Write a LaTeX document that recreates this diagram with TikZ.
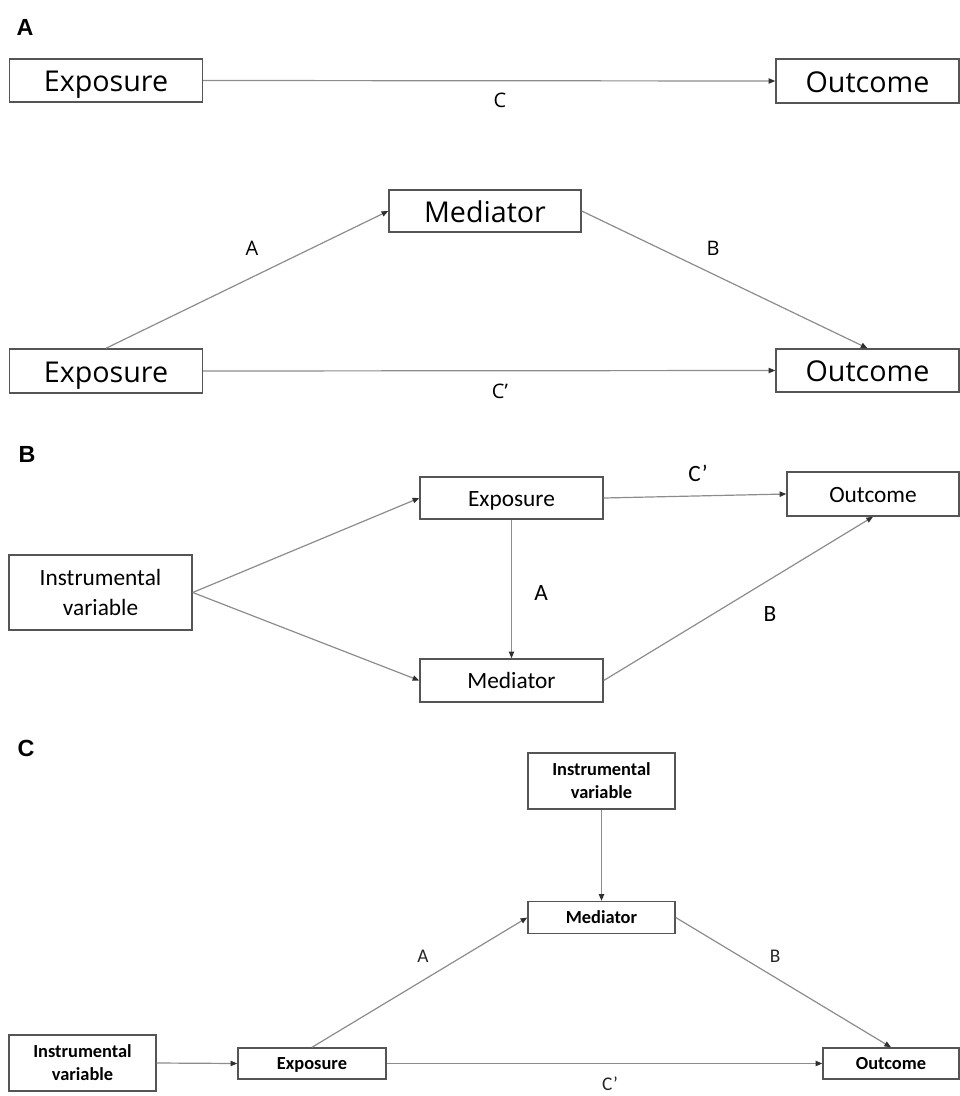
\documentclass[tikz,border=0pt]{standalone}
\usepackage{fontspec}
\newfontfamily\wideFont{Open Sans}
\newfontfamily\calFont{Carlito}
\newfontfamily\titleFont{Liberation Sans}
\usetikzlibrary{arrows.meta}
\definecolor{boxGray}{HTML}{555555}
\definecolor{lineGray}{HTML}{8C8C8C}
\definecolor{tipGray}{HTML}{303030}

\begin{document}
\begin{tikzpicture}[x=0.75pt,y=-0.75pt,
		box/.style={draw=boxGray,line width=1.1pt,inner sep=0pt,text=black,text depth=0pt},
		twoLine/.style={align=center,text height={},text depth={}},
		boxA/.style={box,text height=16.5pt,font=\wideFont\fontsize{21.5}{26}\selectfont},
		boxB/.style={box,text height=12pt,font=\calFont\fontsize{17.5}{23.2}\selectfont},
		boxC/.style={box,text height=9.5pt,font=\calFont\bfseries\fontsize{13.8}{17.3}\selectfont},
		link/.style={draw=lineGray,line width=0.9pt,-{Triangle[length=5pt,width=4pt,color=tipGray]}},
		lblA/.style={inner sep=0pt,font=\wideFont\fontsize{15}{18}\selectfont},
		lblB/.style={inner sep=0pt,font=\calFont\fontsize{17.5}{21}\selectfont},
		lblC/.style={inner sep=0pt,text=black!85,font=\calFont\fontsize{14.5}{17}\selectfont},
		panel/.style={inner sep=0pt,font=\titleFont\bfseries\fontsize{17.5}{21}\selectfont}]
		\useasboundingbox(0,0)rectangle(960,1096);

		% panel A
		\node[panel](titleA)at(25,27){A};
		\node[boxA,minimum width=144.75pt,minimum height=32.25pt](expA)at(106,80.5){Exposure};
		\node[boxA,minimum width=137.25pt,minimum height=33pt](outA)at(867.5,81){Outcome};
		\draw[link](expA.east)--(outA.west);
		\node[lblA](labCA)at(500,100){C};

		\node[boxA,minimum width=144pt,minimum height=31.5pt](medA)at(485,211){Mediator};
		\node[boxA,minimum width=144.75pt,minimum height=33pt](expAA)at(106,371){Exposure};
		\node[boxA,minimum width=137.25pt,minimum height=32.25pt](outAA)at(867.5,370.5){Outcome};
		\draw[link](expAA.north)--(medA.west);
		\draw[link](medA.east)--(outAA.north);
		\draw[link](expAA.east)--(outAA.west);
		\node[lblA](labAA)at(252,248){A};
		\node[lblA](labBA)at(713,248){B};
		\node[lblA](labCCA)at(500,391){C’};

		% panel B
		\node[panel](titleB)at(27,454){B};
		\node[boxB,twoLine,minimum width=137.25pt,minimum height=56.25pt](ivB)at(100.5,592.5){Instrumental\\variable};
		\node[boxB,minimum width=137.25pt,minimum height=31.5pt](expB)at(511.5,498){Exposure};
		\node[boxB,minimum width=137.25pt,minimum height=32.25pt](medB)at(511.5,680.5){Mediator};
		\node[boxB,minimum width=129pt,minimum height=33pt](outB)at(873,494){Outcome};
		\draw[link](ivB.east)--(expB.west);
		\draw[link](ivB.east)--(medB.west);
		\draw[link](expB.south)--(medB.north);
		\draw[link](expB.east)--(outB.west);
		\draw[link](medB.east)--(outB.south);
		\node[lblB](labCB)at(698,473){C’};
		\node[lblB](labAB)at(541,593){A};
		\node[lblB](labBB)at(770,614){B};

		% panel C
		\node[panel](titleC)at(26,748){C};
		\node[boxC,twoLine,minimum width=110.25pt,minimum height=42pt](ivC)at(82.5,1063){Instrumental\\variable};
		\node[boxC,minimum width=111pt,minimum height=23.25pt](expC)at(312,1063.5){Exposure};
		\node[boxC,twoLine,minimum width=110.25pt,minimum height=42pt](ivCC)at(601.5,781){Instrumental\\variable};
		\node[boxC,minimum width=110.25pt,minimum height=24pt](medC)at(601.5,917.5){Mediator};
		\node[boxC,minimum width=102pt,minimum height=23.25pt](outC)at(891,1063.5){Outcome};
		\draw[link](ivC.east)--(expC.west);
		\draw[link](ivCC.south)--(medC.north);
		\draw[link](expC.north)--(medC.west);
		\draw[link](medC.east)--(outC.north);
		\draw[link](expC.east)--(outC.west);
		\node[lblC](labAC)at(423,956){A};
		\node[lblC](labBC)at(775,956){B};
		\node[lblC](labCC)at(610,1084){C’};

	\end{tikzpicture}
\end{document}
